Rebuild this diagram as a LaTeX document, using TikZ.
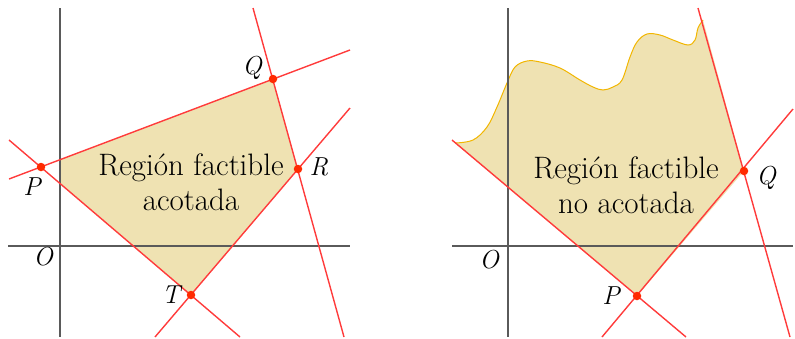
\documentclass[tikz,border=0pt]{standalone}
\usepackage{tikz}
\usepackage{xcolor}
\usetikzlibrary{positioning}
\definecolor{rojo}{HTML}{FF3B3B}
\definecolor{rojopunto}{HTML}{FF2A00}
\definecolor{crema}{HTML}{EFE2B2}
\definecolor{naranja}{HTML}{F2B600}
\definecolor{gris}{HTML}{5A5A5A}
\tikzstyle{eje} = [draw=gris, line width=1.8pt]
\tikzstyle{recta} = [draw=rojo, line width=1.4pt]
\tikzstyle{region} = [fill=crema]
\tikzstyle{borde} = [draw=naranja, line width=1pt]
\tikzstyle{punto} = [circle, fill=rojopunto, inner sep=0pt, minimum size=8.5pt]
\tikzstyle{etiqueta} = [font=\fontsize{26}{30}\selectfont\itshape, inner sep=0pt]
\tikzstyle{texto} = [font=\fontsize{31}{35}\selectfont, align=center, inner sep=0pt]

\begin{document}
\begin{tikzpicture}[x=1pt, y=-1pt]
        \useasboundingbox (0,0) rectangle (795,338);

        % Region acotada
        \coordinate (ejeYa1) at (60,8);
        \coordinate (ejeYa2) at (60,337);
        \coordinate (ejeXa1) at (8,246);
        \coordinate (ejeXa2) at (350,246);
        \coordinate (P) at (41,167);
        \coordinate (Q) at (273,79);
        \coordinate (R) at (298,169);
        \coordinate (T) at (191,295);
        \coordinate (PQa) at (9,179);
        \coordinate (PQb) at (350,50);
        \coordinate (QRa) at (253,8);
        \coordinate (QRb) at (344,337);
        \coordinate (PTa) at (9,140);
        \coordinate (PTb) at (240,337);
        \coordinate (TRa) at (155,337);
        \coordinate (TRb) at (350,108);

        \fill[region] (intersection of P--Q and ejeYa1--ejeYa2) -- (Q) -- (R) -- (T)
            -- (intersection of P--T and ejeYa1--ejeYa2) -- cycle;
        \draw[eje] (ejeYa1) -- (ejeYa2);
        \draw[eje] (ejeXa1) -- (ejeXa2);
        \draw[recta] (PQa) -- (PQb);
        \draw[recta] (QRa) -- (QRb);
        \draw[recta] (PTa) -- (PTb);
        \draw[recta] (TRa) -- (TRb);

        \node (dP) [punto] at (P) {};
        \node (dQ) [punto] at (Q) {};
        \node (dR) [punto] at (R) {};
        \node (dT) [punto] at (T) {};
        \node (lP) [etiqueta] at (32,187) {P};
        \node (lQ) [etiqueta] at (252,68) {Q};
        \node (lR) [etiqueta] at (319,167) {R};
        \node (lT) [etiqueta] at (171,295) {T};
        \node (lO) [etiqueta] at (43,257) {O};
        \node (acot) [texto] at (191,182) {Región factible\\acotada};

        % Region no acotada
        \coordinate (ejeYb1) at (508,8);
        \coordinate (ejeYb2) at (508,337);
        \coordinate (ejeXb1) at (452,246);
        \coordinate (ejeXb2) at (793,246);
        \coordinate (P2) at (637,296);
        \coordinate (Q2) at (744,171);
        \coordinate (Pa) at (452,140);
        \coordinate (Pb) at (686,337);
        \coordinate (PQ2a) at (602,337);
        \coordinate (PQ2b) at (793,109);
        \coordinate (Qa) at (698,8);
        \coordinate (Qb) at (790,337);

        \fill[region] plot[smooth, tension=0.6] coordinates {(455,143) (473,140) (487,127)
            (497,107) (507,83) (515,67) (527,61) (540,62) (560,68) (580,80) (593,87)
            (603,90) (613,87) (622,80) (630,57) (637,42) (647,34) (660,35) (673,40)
            (688,45) (695,40) (698,28) (703,20)} -- (Q2) -- (P2) -- cycle;
        \draw[borde] plot[smooth, tension=0.6] coordinates {(455,143) (473,140) (487,127)
            (497,107) (507,83) (515,67) (527,61) (540,62) (560,68) (580,80) (593,87)
            (603,90) (613,87) (622,80) (630,57) (637,42) (647,34) (660,35) (673,40)
            (688,45) (695,40) (698,28) (703,20)};
        \draw[eje] (ejeYb1) -- (ejeYb2);
        \draw[eje] (ejeXb1) -- (ejeXb2);
        \draw[recta] (Pa) -- (Pb);
        \draw[recta] (PQ2a) -- (PQ2b);
        \draw[recta] (Qa) -- (Qb);

        \node (dP2) [punto] at (P2) {};
        \node (dQ2) [punto] at (Q2) {};
        \node (lP2) [etiqueta] at (611,296) {P};
        \node (lQ2) [etiqueta] at (766,178) {Q};
        \node (lO2) [etiqueta] at (489,260) {O};
        \node (noacot) [texto] at (626,185) {Región factible\\no acotada};

    \end{tikzpicture}
\end{document}
